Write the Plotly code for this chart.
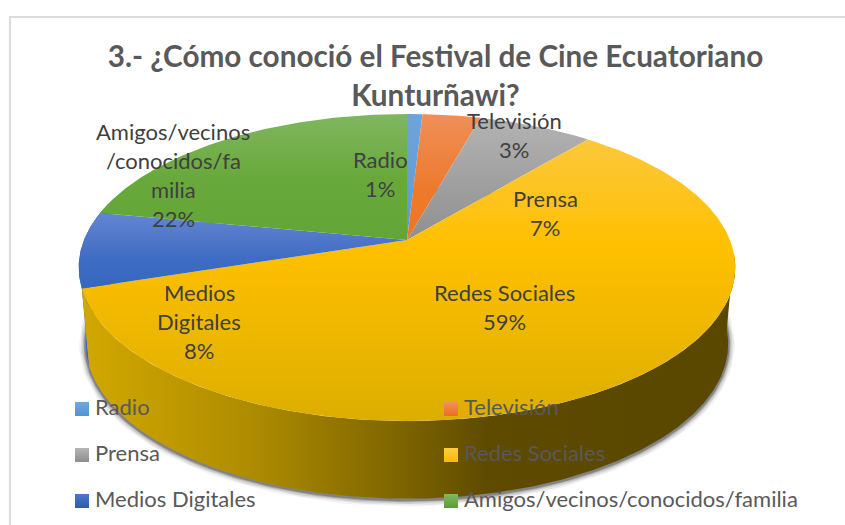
import numpy as np
import plotly.graph_objects as go

TITLE = "3.- ¿Cómo conoció el Festival de Cine Ecuatoriano<br>Kunturñawi?"
categories = ["Radio", "Televisión", "Prensa", "Redes Sociales", "Medios Digitales",
              "Amigos/vecinos/conocidos/familia"]
values = [0.9, 3.4, 6.7, 59.0, 8.0, 22.0]
label_names = [["Radio"], ["Televisión"], ["Prensa"], ["Redes Sociales"], ["Medios", "Digitales"],
               ["Amigos/vecinos", "/conocidos/fa", "milia"]]

# gradient stops per slice: (position from top, colour)
top_colors = [
    [(0, "#6fa3d9"), (1, "#5b9bd5")],
    [(0, "#ef8f58"), (0.6, "#ed7a2c"), (1, "#ed7626")],
    [(0, "#b3b3b3"), (1, "#8f8f8f")],
    [(0, "#fbc83c"), (0.38, "#ffc000"), (1, "#dcae00")],
    [(0, "#6486d0"), (0.6, "#3f6cc4"), (1, "#3567bd")],
    [(0, "#80b660"), (0.5, "#69a93c"), (1, "#63a536")],
]
swatch_top = ["#6eaade", "#f4915a", "#b5b5b5", "#ffcc44", "#4f77c8", "#82b862"]
swatch_bot = ["#4f94d4", "#ed6d1f", "#8e8e8e", "#fbbb00", "#2c5cb0", "#5a9e30"]
side_stops = [(0, "#d2a800"), (0.26, "#ae8c00"), (0.49, "#7d6400"), (0.62, "#5e4b00"), (1, "#5a4700")]

# picture geometry, pixels
CX, CY, RX, RY, K = 407, 240, 323, 148.6, 0.179
CY2, RX2, RY2 = 316, 316, 150

shares = np.array(values) / sum(values)
edges = np.concatenate([[0], np.cumsum(shares)]) * 2 * np.pi


def rim(a, b, cy=CY, rx=RX, ry=RY):
    t = np.linspace(a, b, max(3, int(abs(b - a) * 90)))
    w = 1 + K * np.cos(t)
    return CX + rx * np.sin(t) / w, cy - ry * np.cos(t) / w


fig = go.Figure()

# soft shadow around the base
bx, by = rim(0, 2 * np.pi, CY2, RX2, RY2)
for width, alpha in [(14, 0.05), (11, 0.08), (8, 0.12), (5, 0.2), (3, 0.3)]:
    fig.add_trace(go.Scatter(x=bx, y=by + 1, mode="lines", line=dict(color=f"rgba(40,40,40,{alpha})", width=width),
                             hoverinfo="skip", showlegend=False))

# side wall: blue piece then yellow piece
for a, b, fill in [(edges[4], np.radians(285), dict(type="horizontal", colorscale=[(0, "#3a68bd"), (1, "#2f5aa8")])),
                   (np.radians(95), edges[4], dict(type="horizontal", colorscale=side_stops))]:
    tx, ty = rim(a, b)
    lx, ly = rim(b, a, CY2, RX2, RY2)
    fig.add_trace(go.Scatter(x=np.r_[tx, lx], y=np.r_[ty, ly], mode="lines", fill="toself", line=dict(width=0),
                             fillgradient=fill, hoverinfo="skip", showlegend=False))

# top face
for i, name in enumerate(categories):
    rx_, ry_ = rim(edges[i], edges[i + 1])
    stops = [(1 - p, c) for p, c in reversed(top_colors[i])]
    fig.add_trace(go.Scatter(x=np.r_[CX, rx_, CX], y=np.r_[CY, ry_, CY], mode="lines", fill="toself",
                             line=dict(width=0), name=name, showlegend=False, hoverinfo="name",
                             fillgradient=dict(type="vertical", colorscale=stops)))

# key
key_x = [82, 451]
key_y = [409, 455, 501]
for i, name in enumerate(categories):
    fig.add_trace(go.Scatter(x=[key_x[i % 2]], y=[key_y[i // 2]], mode="markers",
                             marker=dict(symbol="square", size=14, color=swatch_top[i],
                                         gradient=dict(type="vertical", color=swatch_bot[i])),
                             hoverinfo="skip", showlegend=False))
    fig.add_trace(go.Scatter(x=[key_x[i % 2] + 13], y=[key_y[i // 2]], mode="text", text=[name],
                             textposition="middle right",
                             textfont=dict(family="Lato", size=22, color="#595959"),
                             hoverinfo="skip", showlegend=False))

# data labels
label_x = [380, 514, 545, 504, 199, 173]
label_y = [159, 120, 198, 292, 292, 131]
LINE = 29.3
annotations = []
for i, lines in enumerate(label_names):
    rows = lines + [f"{round(values[i] / sum(values) * 100)}%"]
    for j, row in enumerate(rows):
        annotations.append(dict(x=label_x[i], y=label_y[i] + j * LINE, xref="x", yref="y", text=row, showarrow=False,
                                xanchor="center", yanchor="middle",
                                font=dict(family="Lato", size=22, color="#404040")))

fig.update_layout(
    width=845, height=525, margin=dict(l=0, r=0, t=0, b=0),
    paper_bgcolor="white", plot_bgcolor="white", showlegend=False,
    title=dict(text=TITLE, x=435.5 / 845, xanchor="center", y=1 - 67 / 525, yanchor="middle",
               font=dict(family="Lato", size=29.7, color="#595959", weight="bold")),
    xaxis=dict(range=[0, 845], visible=False, fixedrange=True),
    yaxis=dict(range=[525, 0], visible=False, fixedrange=True),
    annotations=annotations,
    shapes=[dict(type="rect", xref="x", yref="y", x0=10, y0=17, x1=860, y1=540,
                 line=dict(color="#dcdcdc", width=2), layer="below")],
)
fig.write_html("out.html", config={"displayModeBar": False}, post_script="document.body.style.margin='0';")
